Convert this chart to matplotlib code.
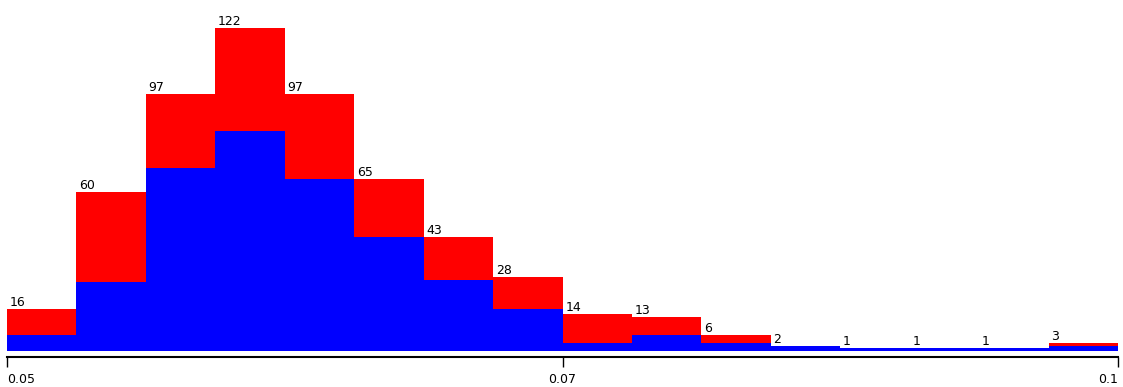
import matplotlib
matplotlib.use("Agg")
import matplotlib.pyplot as plt
import numpy as np

# counts per bin (total) and the blue part of each bar
totals = [16, 60, 97, 122, 97, 65, 43, 28, 14, 13, 6, 2, 1, 1, 1, 3]
blue = [6, 26, 69, 83, 65, 43, 27, 16, 3, 6, 3, 2, 1, 1, 1, 2]
tick_pos = [0, 8, 16]
tick_labels = ["0.05", "0.07", "0.1"]

W, H, dpi = 1123, 387, 100
fig = plt.figure(figsize=(W / dpi, H / dpi), dpi=dpi)
left, right, bottom = 7, 1118, 36
ax = fig.add_axes([left / W, bottom / H, (right - left) / W, (H - bottom) / H])

x = np.arange(len(totals))
red = [t - b for t, b in zip(totals, blue)]
ax.bar(x, blue, width=1, align='edge', color='#0000ff', linewidth=0)
ax.bar(x, red, bottom=blue, width=1, align='edge', color='#ff0000', linewidth=0)

for i, t in enumerate(totals):
    ax.annotate(str(t), (x[i], t), xytext=(2, 0), textcoords='offset points',
                ha='left', va='bottom', fontsize=9, color='black')

ax.set_xlim(0, len(totals))
ax.set_ylim(0, (H - bottom) / 2.648)

for s in ['top', 'left', 'right']:
    ax.spines[s].set_visible(False)
ax.spines['bottom'].set_position(('outward', 4))
ax.spines['bottom'].set_linewidth(1.5)
ax.set_yticks([])
ax.set_xticks(tick_pos)
ax.set_xticklabels(tick_labels, fontsize=9)
ax.tick_params(axis='x', direction='out', length=7, width=1, pad=5)
labels = ax.get_xticklabels()
labels[0].set_ha('left')
labels[1].set_ha('center')
labels[2].set_ha('right')

fig.savefig("out.png", dpi=dpi)
